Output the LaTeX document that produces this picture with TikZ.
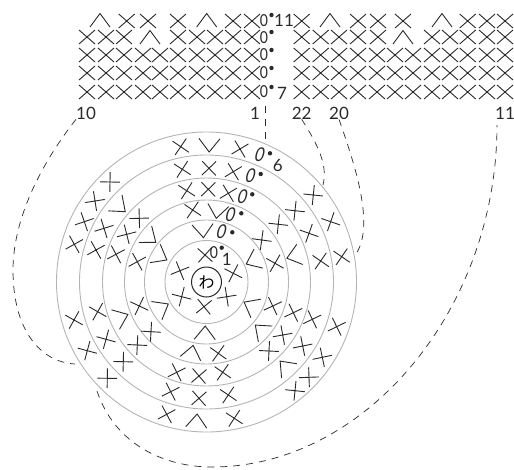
\documentclass[tikz,border=0pt]{standalone}
\usepackage{fontspec}
\setmainfont{Lato}
\newfontfamily\cjk{Noto Sans CJK JP}
\usepackage{xcolor}
\definecolor{ringGray}{HTML}{B4B4B4}
\definecolor{symbDark}{HTML}{2A2A2A}
\tikzset{
    ringline/.style={
        draw=ringGray,
        line width=0.9pt
    },
    stitch/.style={
        draw=symbDark,
        line width=0.9pt
    },
    leader/.style={
        draw=symbDark,
        line width=0.7pt,
        dash pattern=on 7pt off 6pt
    },
    numlabel/.style={
        font=\fontsize{17}{17}\selectfont,
        text=symbDark,
        inner sep=0pt
    },
    chainzero/.style={
        font=\fontsize{19}{19}\selectfont,
        text=symbDark,
        xscale=0.85,
        xslant=0.3,
        inner sep=0pt
    },
    gridzero/.style={
        font=\fontsize{16.5}{16.5}\selectfont,
        text=symbDark,
        xscale=0.85,
        inner sep=0pt
    },
    slipdot/.style={
        circle,
        fill=symbDark,
        minimum size=4.4pt,
        inner sep=0pt
    }
}
\newcommand{\gridX}[2]{\draw[stitch] (#1-8,#2-7) -- (#1+8,#2+7) (#1-8,#2+7) -- (#1+8,#2-7);}
\newcommand{\gridA}[2]{\draw[stitch] (#1-10,#2+7) -- (#1,#2-6.5) -- (#1+10,#2+7);}
\begin{document}
\begin{tikzpicture}[x=1pt,y=-1pt]
    \useasboundingbox (0,0) rectangle (514,469);
    \coordinate (ctr) at (206.5,282);

    % rounds
    \foreach \rad in {41.5,62,82,104,127,150} {
        \draw[ringline] (ctr) circle (\rad pt);
    }
    \node[draw=symbDark,circle,line width=1pt,minimum size=30pt,inner sep=0pt,font=\cjk\fontsize{16}{16}\selectfont] (ring) at (ctr) {わ};

    % top chart, left part
    \foreach \px in {126.7,148,178,233,252} { \gridX{\px}{21} }
    \foreach \px in {100,206.7} { \gridA{\px}{20} }
    \foreach \px in {87,106,124,178,197,215,233,252} { \gridX{\px}{37} }
    \gridA{150}{37}
    \foreach \py in {55,73,92} {
        \foreach \px in {87,106,124,143,160,178,197,215,233,252} { \gridX{\px}{\py} }
    }
    % top chart, right part
    \foreach \px in {301.7,358,378,403,467.7,487,505} { \gridX{\px}{21} }
    \foreach \px in {330,442} { \gridA{\px}{20} }
    \foreach \px in {301.7,320.7,339,358,378,432,450,467.7,487,505} { \gridX{\px}{37} }
    \gridA{403}{37}
    \foreach \py in {55,73,92} {
        \foreach \px in {301.7,320.7,339,358,377,395,413,432,450,467.7,487,505} { \gridX{\px}{\py} }
    }
    % chains and slip stitches of the chart
    \foreach \py/\dy [count=\i] in {20.5/15,37.5/32,55/50,73/68,92/87} {
        \node[gridzero] (gz\i) at (264,\py) {0};
        \node[slipdot] (gd\i) at (271.5,\dy) {};
    }
    \node[numlabel] (rowEleven) at (284,20) {11};
    \node[numlabel] (rowSeven) at (282,93) {7};
    \node[numlabel] (lblTen) at (86,113) {10};
    \node[numlabel] (lblOne) at (255,113) {1};
    \node[numlabel] (lblTwoTwo) at (301.7,113) {22};
    \node[numlabel] (lblTwenty) at (339,113) {20};
    \node[numlabel] (lblEleven) at (505,113) {11};

    % single crochet in the round, turned away from the centre
    \foreach \px/\py in {
        180.7/146.7,240/149,110/182,95/201,84.3/221.7,74.3/244.3,313.3/195,330.7/221.7,341.7/256.7,
        182.3/169.3,209/168.3,233.3/171.7,104/228.3,96/250,295/210.7,309/233.3,320.7/261,
        186.7/190.7,208.3/189.3,228.3/193.3,139.3/218.3,126.7/234.3,116/254.3,278.3/224.3,275/263.3,
        192.7/210,137.3/261.7,261.7/240,205/255,180/270.7,233.3/273.3,
        181.7/296.7,204/306.7,226.7/296.7,139.3/306,151/331.7,74/320,97.7/311.7,106/339.3,137.3/345,
        176.7/372.3,199/376,222.7/372.3,87.3/350.7,123.3/361.7,170.7/391.7,199/398.3,228.3/395,
        107.3/378.3,166.7/414.3,234.3/418.3,272.7/306,293.3/312.7,312.3/319.3,336.7/326.7,
        282.7/335,302.7/346,322.3/357.3,269/351,309/377.3,295/390.7,218.3/353.3
    } {
        \pgfmathsetmacro{\turn}{-atan2(\px-206.5,282-\py)}
        \draw[stitch,shift={(\px,\py)},rotate=\turn] (-7,-7) -- (7,7) (-7,7) -- (7,-7);
    }
    % increases and decreases, apex towards the centre
    \foreach \px/\py in {
        209.3/145.3,120.2/207.3,150.5/238.3,161/256.7,203/231,217.3/211.7,293.3/256.3,252.3/261.3,
        121.7/317,162.5/307.3,205/332.7,191.8/352,196.7/420.7,250/305.3,260.3/329.5,284.7/366
    } {
        \pgfmathsetmacro{\turn}{-atan2(\px-206.5,282-\py)}
        \draw[stitch,shift={(\px,\py)},rotate=\turn] (-10.5,-6.7) -- (0,6.7) -- (10.5,-6.7);
    }

    % chains and slip stitches of the round
    \foreach \px/\py/\qx/\qy [count=\i] in {
        260/155/270/153.3,250.7/176/260.7/174,242.7/196.7/252.3/194.3,230.7/215/241.3/213.3,221.7/231.7/232.3/232.3
    } {
        \node[chainzero] (cz\i) at (\px,\py) {0};
        \node[slipdot] (cd\i) at (\qx,\qy) {};
    }
    \node[gridzero] (czInner) at (214,253) {0};
    \node[slipdot] (cdInner) at (221.7,247.7) {};
    \node[numlabel] (rndOne) at (226.7,259) {1};
    \node[numlabel] (rndSix) at (277.7,165) {6};

    % leaders from the chart to the round
    \coordinate (startOne) at (265,106);
    \coordinate (endOne) at (265,142);
    \coordinate (endTen) at (75,364);
    \coordinate (startEleven) at (97,391);
    \coordinate (endEleven) at (497,125);
    \coordinate (endTwoTwo) at (323,185);
    \coordinate (endTwenty) at (356,254);
    \draw[leader] (startOne) -- (endOne);
    \draw[leader] (lblTen.south west) .. controls (40,165) and (13,220) .. (13,270) .. controls (13,330) and (40,362) .. (endTen);
    \draw[leader] (startEleven) .. controls (115,445) and (165,467) .. (212,467) .. controls (365,467) and (497,310) .. (endEleven);
    \draw[leader] (lblTwoTwo.south) .. controls (318,145) and (328,165) .. (endTwoTwo);
    \draw[leader] (lblTwenty.south) .. controls (355,165) and (375,225) .. (endTwenty);
\end{tikzpicture}
\end{document}
